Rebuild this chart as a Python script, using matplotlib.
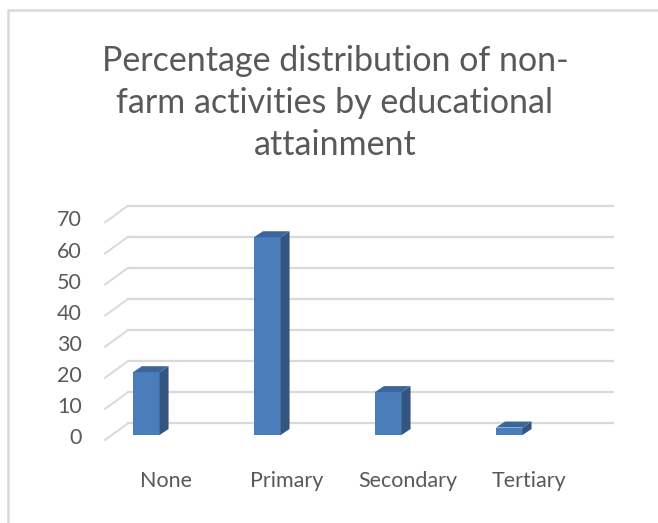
import matplotlib
matplotlib.use("Agg")
import matplotlib.pyplot as plt
from matplotlib.patches import Polygon, Rectangle
import numpy as np

categories = ["None", "Primary", "Secondary", "Tertiary"]
values = [20.2, 63.6, 13.8, 2.4]
y_ticks = [0, 10, 20, 30, 40, 50, 60, 70]
title = "Percentage distribution of non-\nfarm activities by educational\nattainment"

front_col = "#4a7ebb"
side_col = "#34557f"
top_col = "#3c669b"
grid_col = "#d9d9d9"
text_col = "#595959"

# fake 3d offsets, in data units (x = category, y = value)
bar_w = 0.22
bar_dx, bar_dy = 0.074, 1.93      # bar depth
back_dx, back_dy = 0.133, 3.76    # back wall relative to bar plane
front_dx, front_dy = -0.057, -1.61  # front edge relative to bar plane

plt.rcParams['font.family'] = ['Lato', 'DejaVu Sans']

fig = plt.figure(figsize=(6.58, 5.23), dpi=100)
ax = fig.add_axes([0, 0, 1, 1])
ax.set_xlim(-1.209, 4.229)
ax.set_ylim(-28.3, 139.9)
ax.axis("off")

# border of chart area (only top/left visible in crop)
fig.patches.append(Rectangle((8 / 658, -0.1), 1.2, 1 - 10 / 523 + 0.1,
                             transform=fig.transFigure, fill=False,
                             edgecolor=grid_col, linewidth=1.8))

# gridlines on back wall plus diagonal floor lines on the left
x_back0 = -0.151
x_back1 = 3.857
for v in y_ticks:
    ax.plot([x_back0, x_back1], [v + back_dy, v + back_dy], color=grid_col, lw=1.6, zorder=1)
    ax.plot([x_back0 - back_dx + front_dx, x_back0], [v + front_dy, v + back_dy],
            color=grid_col, lw=1.4, zorder=1)
    ax.text(-0.531, v + front_dy + 0.6, str(v), ha="right", va="center",
            fontsize=15.5, color=text_col)

# bars
x = np.arange(len(categories))
ax.bar(x, values, width=bar_w, color=front_col, zorder=3)
for xi, v in zip(x, values):
    l, r = xi - bar_w / 2, xi + bar_w / 2
    side = Polygon([(r, 0), (r + bar_dx, bar_dy), (r + bar_dx, v + bar_dy), (r, v)],
                   closed=True, facecolor=side_col, edgecolor="none", zorder=3)
    top = Polygon([(l, v), (r, v), (r + bar_dx, v + bar_dy), (l + bar_dx, v + bar_dy)],
                  closed=True, facecolor=top_col, edgecolor="none", zorder=3)
    ax.add_patch(side)
    ax.add_patch(top)

for xi, c in zip(x, categories):
    ax.text(xi + 0.16, -14.8, c, ha="center", va="center", fontsize=15.5, color=text_col)

fig.text(0.509, 1 - 103 / 523, title, ha="center", va="center", fontsize=24.5,
         color=text_col, linespacing=1.4)

fig.savefig("out.png", dpi=100)
